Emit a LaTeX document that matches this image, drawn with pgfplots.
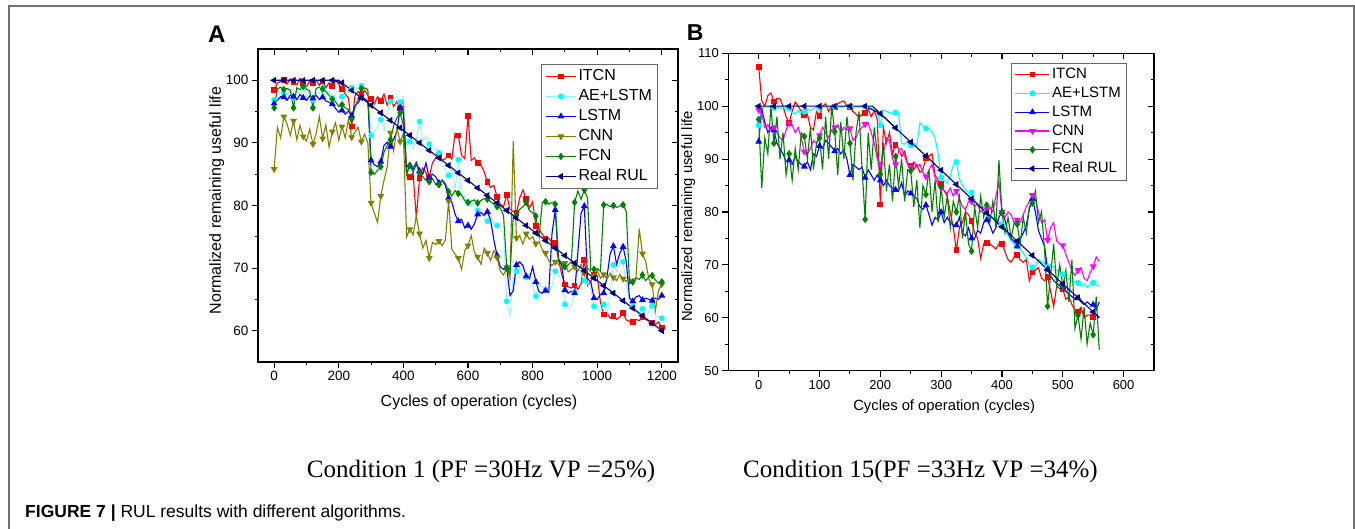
\documentclass[border=0pt]{standalone}
\usepackage{fontspec}
\setmainfont{Liberation Sans}
\newfontfamily\timesfont{Liberation Serif}
\usepackage{pgfplots}
\usepackage{pgfplotstable}
\pgfplotsset{compat=1.18}
\definecolor{cITCN}{HTML}{FF0000}
\definecolor{cAE}{HTML}{00FFFF}
\definecolor{cAEl}{HTML}{8CF4FF}
\definecolor{cLSTM}{HTML}{0000FF}
\definecolor{cCNNA}{HTML}{808000}
\definecolor{cCNNB}{HTML}{FF00FF}
\definecolor{cFCN}{HTML}{008000}
\definecolor{cRUL}{HTML}{000080}

\pgfplotstableread{
x itcn ae lstm cnn fcn
0 98.4 96.9 96.3 85.8 95.6
10 99.6 97.5 96.8 92.5 98.6
20 99.8 98.2 97.4 90.8 98.9
30 100.1 97.8 97.3 94.2 98.5
40 99.4 97.0 96.8 93.0 98.7
50 100.2 98.5 97.6 91.2 98.4
60 99.7 97.2 97.4 93.5 95.6
70 99.3 98.6 96.9 90.5 98.8
80 100.3 97.6 97.7 92.8 98.5
90 99.5 98.9 97.2 91.0 99.0
100 99.0 97.3 96.8 90.3 98.6
110 99.9 98.4 97.5 92.2 98.3
120 99.6 96.9 97.1 89.8 95.6
130 100.0 98.1 97.6 91.5 98.7
140 99.2 97.9 96.9 94.2 98.9
150 99.8 98.7 97.3 90.7 98.6
160 98.8 97.4 96.7 92.9 98.2
170 99.6 98.3 96.5 89.3 97.6
180 99.1 97.1 96.2 91.8 97.0
190 100.0 97.8 95.5 93.2 96.6
200 99.4 98.2 94.9 90.4 95.8
210 98.6 97.4 95.2 92.6 96.1
220 97.8 98.6 94.6 90.8 95.6
230 97.2 97.9 95.1 93.8 95.3
240 92.6 98.8 94.3 90.9 93.8
250 97.5 99.0 95.9 91.7 95.6
260 98.2 98.5 96.4 92.5 97.0
270 97.8 99.1 97.2 90.2 98.7
280 98.4 98.7 97.1 91.4 98.8
290 97.6 98.4 96.6 90.0 98.5
300 97.0 91.2 87.2 80.4 85.3
310 96.2 91.8 86.5 78.8 85.0
320 97.4 92.5 86.2 77.3 85.6
330 96.7 93.7 87.0 81.5 86.2
340 97.8 91.9 89.6 84.0 88.5
350 96.0 94.8 90.1 86.2 89.6
360 97.2 96.6 89.4 91.6 90.5
370 95.8 96.9 90.6 88.7 92.8
380 96.6 97.4 91.8 92.4 94.0
390 95.5 96.5 95.6 90.2 94.8
400 97.0 97.2 95.0 91.5 92.8
410 85.0 89.5 85.2 75.0 85.0
420 84.6 90.2 86.4 76.2 86.4
430 85.2 89.1 85.8 75.3 85.3
440 78.0 90.6 86.9 78.3 86.6
450 84.4 93.4 85.5 75.5 85.2
460 86.0 90.3 85.0 73.2 84.6
470 85.2 91.0 86.8 74.4 84.0
480 84.6 89.8 84.4 71.6 83.8
490 86.8 88.9 85.0 74.1 84.3
500 87.6 89.2 84.6 73.8 83.4
510 88.1 88.4 83.6 74.3 83.3
520 87.2 86.4 84.0 73.6 84.1
530 87.5 85.6 83.2 74.5 83.5
540 88.0 84.8 81.2 80.7 82.2
550 87.4 86.2 80.5 73.0 81.5
560 91.5 82.6 78.6 72.2 82.4
570 91.2 87.3 77.5 71.6 81.9
580 88.0 80.8 77.8 69.8 81.7
590 87.5 81.6 76.4 72.8 80.8
600 94.3 80.4 76.8 73.6 80.5
610 87.2 79.8 76.2 75.2 80.7
620 87.6 81.0 77.1 72.5 80.9
630 86.8 79.2 78.6 71.8 80.4
640 86.5 78.6 78.9 70.6 80.8
650 85.4 78.2 78.4 73.2 81.1
660 83.8 77.5 79.0 72.4 81.0
670 82.9 78.4 77.6 71.2 80.6
680 83.2 77.0 74.5 72.8 80.2
690 81.4 76.8 72.0 71.7 79.8
700 80.2 76.2 70.2 69.5 79.6
710 79.8 75.6 69.8 68.9 78.4
720 81.7 64.7 70.1 70.1 70.0
730 79.4 62.3 65.6 68.4 69.2
740 79.0 68.5 66.4 90.3 78.2
750 78.8 69.5 70.5 74.8 78.6
760 81.2 70.2 71.0 75.2 79.4
770 82.5 68.8 70.4 73.8 79.8
780 81.0 68.5 68.7 75.5 80.5
790 79.6 69.2 68.3 74.6 79.2
800 80.6 67.2 70.2 75.0 78.8
810 76.7 65.5 67.8 73.9 78.3
820 76.2 67.6 66.2 74.2 75.0
830 75.4 67.0 66.0 73.0 80.5
840 74.6 66.5 66.4 72.4 80.6
850 74.8 66.0 66.2 71.2 80.2
860 74.0 67.2 75.5 70.4 80.5
870 74.0 69.5 79.3 71.0 80.2
880 71.5 68.8 71.2 70.6 71.5
890 69.0 68.2 70.5 70.0 70.8
900 67.4 64.2 66.5 70.8 70.2
910 67.0 63.6 66.0 69.4 70.5
920 66.8 64.0 66.3 69.8 71.0
930 67.2 66.2 66.0 70.2 80.5
940 66.6 70.0 72.5 69.5 82.3
950 67.5 69.2 78.8 70.6 81.0
960 71.3 68.0 79.9 69.2 82.5
970 67.2 67.5 68.3 70.0 81.2
980 67.8 66.8 67.8 69.4 69.8
990 69.0 63.9 65.2 68.8 69.8
1000 68.8 63.8 65.0 69.6 69.9
1010 64.5 63.0 65.8 68.4 69.5
1020 62.6 64.2 66.0 69.0 80.1
1030 62.8 62.4 68.5 68.2 80.2
1040 62.0 66.0 72.3 69.2 79.8
1050 62.4 70.5 73.5 68.5 80.0
1060 61.8 69.5 70.6 68.0 79.7
1070 62.2 70.8 72.4 69.0 79.9
1080 62.8 71.0 73.4 68.3 80.1
1090 61.7 67.0 71.0 67.9 79.0
1100 61.5 65.0 65.2 68.4 67.5
1110 61.4 63.8 64.7 67.8 67.8
1120 61.8 63.2 65.4 68.5 68.4
1130 61.6 62.4 65.6 76.3 68.2
1140 62.2 63.5 64.9 72.3 68.9
1150 61.8 62.6 65.2 71.0 68.0
1160 61.5 63.0 65.0 68.2 68.6
1170 61.2 64.0 64.8 67.4 68.8
1180 61.0 62.4 65.2 63.2 68.1
1190 61.4 62.2 65.0 66.5 67.6
1200 60.5 62.0 65.6 67.4 67.8
}\dataA

\pgfplotstableread{
x rul
0 100
30 100
60 100
90 100
120 100
150 100
180 100
210 99.6
240 98.4
270 97.2
300 96.0
330 94.8
360 93.6
390 92.4
420 91.2
450 90.0
480 88.8
510 87.6
540 86.4
570 85.2
600 84.0
630 82.8
660 81.6
690 80.4
720 79.2
750 78.0
780 76.8
810 75.6
840 74.4
870 73.2
900 72.0
930 70.8
960 69.6
990 68.4
1020 67.2
1050 66.0
1080 64.8
1110 63.6
1140 62.4
1170 61.2
1200 60.0
}\rulA

\pgfplotstableread{
x itcn ae lstm cnn fcn
0 107.4 96.4 93.3 99.3 97.5
5 101.0 99.3 99.5 98.5 84.5
10 100.0 100.0 97.0 96.0 94.0
15 102.0 99.8 95.0 96.5 91.0
20 102.5 100.1 96.0 95.5 100.0
25 100.9 99.7 95.5 96.0 93.0
30 101.5 99.9 93.0 95.0 98.0
35 101.4 99.6 92.0 94.0 90.0
40 100.0 99.8 91.0 93.5 95.0
45 98.0 99.4 89.5 95.5 87.0
50 96.8 99.6 89.8 96.8 91.0
55 99.0 98.8 89.0 96.5 86.0
60 100.8 98.5 90.5 95.0 92.0
65 100.0 99.2 89.5 96.0 88.0
70 99.0 98.4 89.0 94.0 95.0
75 98.3 99.0 88.6 91.4 94.3
80 98.5 99.5 89.5 91.0 90.0
85 96.0 99.2 88.0 92.0 96.0
90 95.5 99.6 91.0 93.5 88.0
95 99.0 99.8 90.5 93.0 93.0
100 98.2 99.7 92.5 94.5 94.0
105 100.0 99.9 92.0 96.0 88.0
110 100.5 100.0 93.5 95.0 98.0
115 99.0 99.8 93.0 94.0 90.0
120 100.0 100.0 92.3 95.5 100.0
125 99.8 99.9 91.5 96.0 95.2
130 100.5 100.0 92.0 96.5 87.0
135 100.8 99.8 91.0 95.0 97.0
140 101.0 100.0 91.8 96.0 90.0
145 100.0 99.9 90.0 95.5 98.0
150 99.8 100.0 87.0 95.8 93.0
155 99.0 99.7 89.0 93.5 86.0
160 98.5 99.9 88.5 94.0 95.0
165 97.8 99.8 88.0 95.5 99.0
170 98.5 100.0 88.5 96.0 88.0
175 98.7 99.9 86.5 96.6 78.6
180 99.5 99.7 88.0 96.8 95.0
185 98.0 99.6 87.0 95.0 88.0
190 99.2 99.4 86.0 93.0 96.0
195 97.5 99.2 87.0 90.0 91.0
200 81.4 96.4 86.0 89.0 87.1
205 96.0 99.3 85.0 91.0 93.0
210 93.0 99.0 86.0 94.0 84.0
215 95.0 98.8 85.0 93.5 89.0
220 91.0 98.5 84.5 90.0 82.0
225 92.7 98.8 84.2 89.0 90.5
230 92.0 98.6 84.0 91.5 85.0
235 90.5 93.0 85.5 92.0 90.0
240 91.5 92.8 83.0 90.5 82.0
245 89.0 93.4 84.0 89.0 88.0
250 88.8 92.6 83.5 88.5 87.8
255 88.0 93.0 83.0 89.5 81.0
260 89.0 92.4 82.5 88.5 86.0
265 87.5 96.8 81.0 89.0 77.0
270 88.0 96.2 80.5 87.5 85.0
275 90.2 95.8 81.3 86.7 83.3
280 90.5 95.6 79.5 88.0 88.0
285 91.0 95.2 77.5 89.0 80.0
290 87.0 94.0 79.0 86.5 86.0
295 86.0 91.0 78.5 85.0 78.0
300 85.3 86.5 80.0 84.5 84.8
305 84.0 86.0 78.0 84.0 79.0
310 83.0 85.4 79.0 83.5 83.0
315 80.0 86.8 78.0 84.5 77.0
320 77.0 88.9 77.5 83.0 82.0
325 72.8 89.4 77.5 84.0 80.0
330 77.0 86.2 79.0 82.5 83.0
335 78.0 85.0 76.0 81.0 75.0
340 80.0 84.2 75.5 80.5 80.0
345 79.5 83.6 77.0 82.0 74.0
350 78.3 83.7 75.0 82.0 72.6
355 76.0 82.2 75.0 81.0 81.0
360 75.0 81.4 76.5 81.5 77.0
365 71.2 81.0 76.0 80.0 83.0
370 74.0 80.8 78.0 80.5 79.0
375 74.2 80.5 78.5 80.5 81.3
380 74.0 79.4 77.5 81.0 78.0
385 73.5 79.0 76.0 80.0 82.0
390 73.0 78.6 77.0 83.0 77.0
395 74.0 78.2 79.0 85.7 89.8
400 74.0 77.6 80.0 80.0 79.9
405 72.5 76.8 78.5 79.0 76.0
410 71.0 75.5 76.0 80.0 79.0
415 70.5 74.6 75.0 79.5 75.0
420 71.5 74.0 74.5 78.0 78.0
425 71.9 73.6 73.5 78.5 77.7
430 71.0 73.0 75.0 78.0 74.0
435 70.5 72.2 76.0 79.5 79.0
440 71.0 71.4 77.5 81.0 76.0
445 67.0 70.0 80.5 82.0 81.0
450 68.7 69.5 82.5 83.2 81.7
455 69.0 69.8 80.0 82.5 84.0
460 69.5 71.0 76.5 80.0 78.0
465 67.5 70.6 75.0 78.0 80.0
470 67.0 70.2 73.5 78.5 73.0
475 67.7 69.6 69.2 74.7 62.2
480 65.0 70.0 68.0 77.0 68.0
485 62.1 69.4 67.0 78.0 74.0
490 66.0 69.0 66.5 74.5 66.0
495 65.5 68.6 66.0 74.0 70.0
500 65.4 68.2 65.8 73.7 65.9
505 63.5 67.8 65.0 72.0 69.0
510 64.0 67.4 64.5 70.5 63.0
515 62.5 67.0 64.0 69.0 71.0
520 61.5 66.8 63.5 68.0 58.0
525 61.2 66.6 63.7 69.0 60.5
530 62.0 66.0 63.0 69.5 56.0
535 60.0 66.4 62.5 67.5 62.0
540 60.5 65.8 63.0 67.0 55.0
545 60.5 66.2 62.5 68.5 59.0
550 60.2 66.6 62.5 69.7 56.8
555 60.5 66.2 61.5 71.5 64.0
560 60.2 66.0 63.0 70.6 54.0
}\dataB

\pgfplotstableread{
x rul
0 100
25 100
50 100
75 100
100 100
125 100
150 100
175 100
200 98.6
225 95.9
250 93.2
275 90.6
300 87.9
325 85.2
350 82.5
375 79.8
400 77.2
425 74.5
450 71.8
475 69.1
500 66.4
525 63.8
550 61.1
}\rulB

\pgfplotsset{
  baseax/.style={
    scale only axis,
    axis line style={line width=1.1pt, black},
    every tick/.style={line width=1.1pt, black},
    major tick length=6pt, minor tick length=3.5pt,
    /pgf/number format/assume math mode=true,
    /pgf/number format/1000 sep={},
    minor x tick num=1, minor y tick num=1,
  },
  ser/.style={line width=1.1pt, mark size=2.5pt},
}

\begin{document}
\begin{tikzpicture}[x=1pt,y=1pt]
\path[use as bounding box] (0,0) rectangle (1355,529);
\draw[color=black!55, line width=1.3pt] (9,-3) -- (9,523) -- (1354,523) -- (1354,-3);

% ---------------- Panel A ----------------
\begin{axis}[baseax,
  at={(258pt,167pt)}, anchor=south west,
  width=420pt, height=313pt,
  xmin=-50, xmax=1250, ymin=55, ymax=105,
  xtick={0,200,...,1200}, ytick={60,70,...,100},
  tick pos=left, tick align=outside,
  tick label style={font=\fontsize{13.5}{14}\selectfont},
  xlabel={Cycles of operation (cycles)},
  ylabel={Normalized remaining useful life},
  label style={font=\fontsize{16}{18}\selectfont},
  xlabel style={xshift=11pt, yshift=-7pt},
  ylabel style={xshift=5pt, yshift=-5pt},
  legend cell align=left,
  legend style={at={(0.953,0.952)}, anchor=north east, draw=black!60, line width=0.8pt,
    font=\fontsize{16}{16}\selectfont, inner xsep=4pt, inner ysep=2pt,
    nodes={inner sep=2pt, text height=12.5pt, text depth=3.5pt}},
  legend image code/.code={\draw[mark repeat=2,mark phase=2] plot coordinates {(0pt,0pt) (15pt,0pt) (30pt,0pt)};},
]
\addplot[ser, color=cITCN, mark=square*, mark size=2.3pt, mark repeat=3, mark phase=1] table[x=x,y=itcn]{\dataA};
\addlegendentry{ITCN}
\addplot[ser, color=cAEl, line width=0.8pt, mark=*, mark options={fill=cAE, draw=cAE}, mark repeat=3, mark phase=1] table[x=x,y=ae]{\dataA};
\addlegendentry{AE+LSTM}
\addplot[ser, color=cLSTM, mark=triangle*, mark size=2.9pt, mark repeat=3, mark phase=1] table[x=x,y=lstm]{\dataA};
\addlegendentry{LSTM}
\addplot[ser, color=cCNNA, mark=triangle*, mark size=2.9pt, mark options={rotate=180}, mark repeat=3, mark phase=1] table[x=x,y=cnn]{\dataA};
\addlegendentry{CNN}
\addplot[ser, color=cFCN, mark=diamond*, mark size=2.9pt, mark repeat=3, mark phase=1] table[x=x,y=fcn]{\dataA};
\addlegendentry{FCN}
\addplot[ser, color=cRUL, mark=triangle*, mark size=2.9pt, mark options={rotate=90}] table[x=x,y=rul]{\rulA};
\addlegendentry{Real RUL}
\addplot[ser, color=cRUL, no markers, forget plot] coordinates {(180,100) (200,100) (210,99.6)};
\end{axis}
\begin{axis}[baseax,
  at={(258pt,167pt)}, anchor=south west,
  width=420pt, height=313pt,
  xmin=-50, xmax=1250, ymin=55, ymax=105,
  xtick={0,200,...,1200}, ytick={60,70,...,100},
  tick pos=right, tick align=inside,
  xticklabels={}, yticklabels={},
]
\end{axis}

% ---------------- Panel B ----------------
\begin{axis}[baseax,
  at={(728.3pt,158.3pt)}, anchor=south west,
  width=425.7pt, height=317.4pt,
  xmin=-50, xmax=650, ymin=50, ymax=110,
  xtick={0,100,...,600}, ytick={50,60,...,110},
  tick pos=left, tick align=outside,
  tick label style={font=\fontsize{13}{14}\selectfont},
  xlabel={Cycles of operation (cycles)},
  ylabel={Normalized remaining useful life},
  label style={font=\fontsize{14.8}{17}\selectfont},
  xlabel style={xshift=3pt, yshift=-3pt},
  ylabel style={xshift=-4.5pt, yshift=-5pt},
  legend cell align=left,
  legend style={at={(0.937,0.970)}, anchor=north east, draw=black!60, line width=0.8pt,
    font=\fontsize{15}{15}\selectfont, inner xsep=4pt, inner ysep=2pt,
    nodes={inner sep=2pt, text height=11.5pt, text depth=3.3pt}},
  legend image code/.code={\draw[mark repeat=2,mark phase=2] plot coordinates {(0pt,0pt) (17pt,0pt) (34pt,0pt)};},
]
\addplot[ser, color=cITCN, mark=square*, mark size=2.3pt, mark repeat=5, mark phase=1] table[x=x,y=itcn]{\dataB};
\addlegendentry{ITCN}
\addplot[ser, color=cAE, mark=*, mark repeat=5, mark phase=1] table[x=x,y=ae]{\dataB};
\addlegendentry{AE+LSTM}
\addplot[ser, color=cLSTM, mark=triangle*, mark size=2.9pt, mark repeat=5, mark phase=1] table[x=x,y=lstm]{\dataB};
\addlegendentry{LSTM}
\addplot[ser, color=cCNNB, mark=triangle*, mark size=2.9pt, mark options={rotate=180}, mark repeat=5, mark phase=1] table[x=x,y=cnn]{\dataB};
\addlegendentry{CNN}
\addplot[ser, color=cFCN, mark=diamond*, mark size=2.9pt, mark repeat=5, mark phase=1] table[x=x,y=fcn]{\dataB};
\addlegendentry{FCN}
\addplot[ser, color=cRUL, mark=triangle*, mark size=2.9pt, mark options={rotate=90}] table[x=x,y=rul]{\rulB};
\addlegendentry{Real RUL}
\addplot[ser, color=cRUL, no markers, forget plot] coordinates {(175,100) (187,100) (200,98.6) (225,95.9)};
\addplot[ser, color=cRUL, no markers, forget plot] coordinates {(550,61.1) (560,60.0)};
\end{axis}
\begin{axis}[baseax,
  at={(728.3pt,158.3pt)}, anchor=south west,
  width=425.7pt, height=317.4pt,
  xmin=-50, xmax=650, ymin=50, ymax=110,
  xtick={0,100,...,600}, ytick={50,60,...,110},
  tick pos=right, tick align=inside,
  xticklabels={}, yticklabels={},
]
\end{axis}

% panel letters
\node[anchor=base west, inner sep=0pt, font=\bfseries\fontsize{24}{24}\selectfont] at (208,486.3) {A};
\node[anchor=base west, inner sep=0pt, font=\bfseries\fontsize{23}{23}\selectfont] at (686.7,488.3) {B};

% condition captions
\node[anchor=base, inner sep=0pt, font=\timesfont\fontsize{25}{25}\selectfont] at (481,51) {Condition 1 (PF =30Hz VP =25\%)};
\node[anchor=base, inner sep=0pt, font=\timesfont\fontsize{25}{25}\selectfont] at (920.5,51) {Condition 15(PF =33Hz VP =34\%)};

% figure caption
\node[anchor=base west, inner sep=0pt, font=\fontsize{17.5}{18}\selectfont] at (25,11.3) {\textbf{FIGURE 7 |} RUL results with different algorithms.};
\end{tikzpicture}
\end{document}
